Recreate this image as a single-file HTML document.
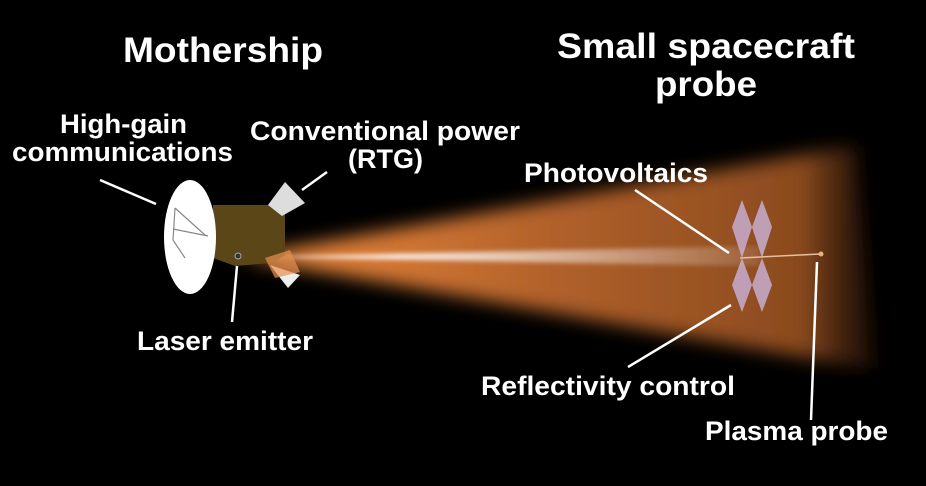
<!DOCTYPE html>
<html><head><style>
body{margin:0;background:#000;width:926px;height:486px;overflow:hidden}
svg{display:block}
text{font-family:"Liberation Sans",sans-serif;font-weight:bold;fill:#fff}
</style></head><body>
<svg width="926" height="486" viewBox="0 0 926 486">
<defs>
<linearGradient id="beam" x1="240" y1="0" x2="880" y2="0" gradientUnits="userSpaceOnUse">
<stop offset="0" stop-color="#f08a3c"/>
<stop offset="0.5" stop-color="#b0602a"/>
<stop offset="0.88" stop-color="#8a4a1e"/>
<stop offset="1" stop-color="#2a1206" stop-opacity="0.5"/>
</linearGradient>
<linearGradient id="streak" x1="240" y1="0" x2="760" y2="0" gradientUnits="userSpaceOnUse">
<stop offset="0" stop-color="#fff" stop-opacity="0.6"/>
<stop offset="0.3" stop-color="#fff" stop-opacity="0.85"/>
<stop offset="1" stop-color="#fff" stop-opacity="0.1"/>
</linearGradient>
<filter id="blur" x="-20%" y="-20%" width="140%" height="140%"><feGaussianBlur stdDeviation="9"/></filter>
<filter id="blur2"><feGaussianBlur stdDeviation="2.5"/></filter>
</defs>
<polygon points="240,257 855,145 875,370" fill="url(#beam)" filter="url(#blur)"/>
<polygon points="240,257 760,246 760,266" fill="url(#streak)" filter="url(#blur2)"/>
<!-- mothership -->
<polygon points="213,205 268,205 285,215 285,255 272,263 235,266 213,258" fill="#5a4616"/>
<ellipse cx="190" cy="237" rx="26" ry="57" fill="#fff"/>
<g stroke="#888" stroke-width="1.2" fill="none"><line x1="175" y1="208" x2="205" y2="235"/><line x1="175" y1="208" x2="173" y2="240"/><line x1="173" y1="240" x2="185" y2="258"/><line x1="173" y1="229" x2="208" y2="236"/></g>
<polygon points="268,205 285,182 305,203 282,216" fill="#ddd"/>
<polygon points="270,265 288,288 300,275" fill="#eee"/>
<polygon points="265,258 290,250 300,272 275,278" fill="#e89050" opacity="0.7"/>
<circle cx="238" cy="256" r="3" fill="#333" stroke="#aaa"/>
<!-- probe -->
<g fill="#c8aed0" opacity="0.85">
<polygon points="742,200 752,227 742,258 732,227"/>
<polygon points="762,200 772,227 762,258 752,227"/>
<polygon points="742,258 752,285 742,312 732,285"/>
<polygon points="762,258 772,285 762,312 752,285"/>
</g>
<line x1="740" y1="258" x2="820" y2="254" stroke="#e8c0a0" stroke-width="1.5"/>
<circle cx="821" cy="254" r="2.5" fill="#e8b080"/>
<!-- leader lines -->
<g stroke="#fff" stroke-width="2.5">
<line x1="100" y1="180" x2="156" y2="204"/>
<line x1="327" y1="172" x2="302" y2="190"/>
<line x1="237" y1="266" x2="232" y2="322"/>
<line x1="635" y1="190" x2="729" y2="253"/>
<line x1="628" y1="367" x2="731" y2="305"/>
<line x1="817" y1="262" x2="811" y2="420"/>
</g>
<!-- labels -->
<text x="123" y="62" font-size="35" textLength="200" lengthAdjust="spacingAndGlyphs">Mothership</text>
<text x="557" y="58" font-size="35" textLength="298" lengthAdjust="spacingAndGlyphs">Small spacecraft</text>
<text x="655" y="96" font-size="35" textLength="102" lengthAdjust="spacingAndGlyphs">probe</text>
<text x="60" y="133" font-size="27" textLength="127" lengthAdjust="spacingAndGlyphs">High-gain</text>
<text x="12" y="161" font-size="27" textLength="221" lengthAdjust="spacingAndGlyphs">communications</text>
<text x="250" y="140" font-size="27" textLength="270" lengthAdjust="spacingAndGlyphs">Conventional power</text>
<text x="348" y="168" font-size="27" textLength="75" lengthAdjust="spacingAndGlyphs">(RTG)</text>
<text x="524" y="182" font-size="27" textLength="184" lengthAdjust="spacingAndGlyphs">Photovoltaics</text>
<text x="137" y="350" font-size="27" textLength="176" lengthAdjust="spacingAndGlyphs">Laser emitter</text>
<text x="481" y="395" font-size="27" textLength="254" lengthAdjust="spacingAndGlyphs">Reflectivity control</text>
<text x="705" y="440" font-size="27" textLength="183" lengthAdjust="spacingAndGlyphs">Plasma probe</text>
</svg>
</body></html>
